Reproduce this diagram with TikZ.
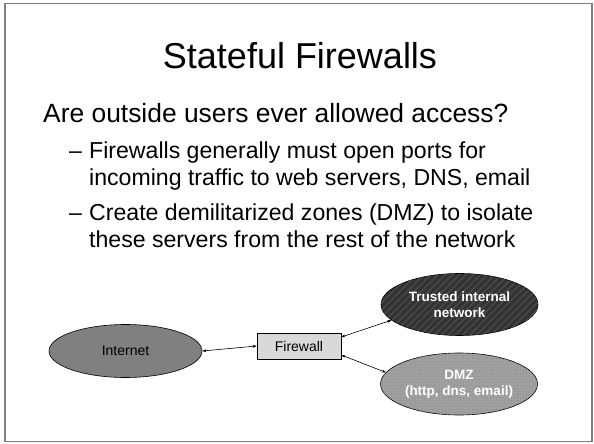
\documentclass[tikz,border=0pt]{standalone}
\usepackage{fontspec}
\setmainfont{Liberation Sans}
\usepackage{tikz}
\usetikzlibrary{arrows.meta, patterns.meta, shapes.geometric}
\definecolor{frameg}{HTML}{7f7f7f}
\definecolor{inetg}{HTML}{808080}
\definecolor{fwg}{HTML}{d9d9d9}
\definecolor{trustd}{HTML}{333333}
\definecolor{trustl}{HTML}{4a4a4a}
\definecolor{dmzg}{HTML}{9a9a9a}
\definecolor{dmzl}{HTML}{bdbdbd}

\begin{document}
\begin{tikzpicture}[
  x=1pt, y=-1pt,
  >={Stealth[length=4pt, width=3pt]},
  title/.style={font=\fontsize{36}{43}\selectfont, anchor=base},
  lvlone/.style={font=\fontsize{26.4}{31}\selectfont, anchor=base west, inner sep=0pt},
  lvltwo/.style={font=\fontsize{23.1}{27}\selectfont, anchor=base west, inner sep=0pt,
                 align=left},
  cloud/.style={ellipse, draw=black, line width=0.6pt, minimum width=153pt,
                minimum height=53pt, inner sep=0pt, align=center},
  wcloud/.style={cloud, minimum width=157pt, minimum height=62pt, text=white,
                 font=\fontsize{13.5}{16}\selectfont\bfseries},
  box/.style={draw=black, line width=0.6pt, fill=fwg, minimum width=84pt,
              minimum height=26pt, inner sep=0pt, font=\fontsize{14}{16}\selectfont},
  link/.style={<->, line width=0.6pt}
]
\useasboundingbox (0,0) rectangle (594,444);
\draw[frameg, line width=1.5pt] (5,3.5) rectangle (592,441.5);

% ---- Title and text ----
\node[title] (ttl) at (300,69) {Stateful Firewalls};
\node[lvlone] (q) at (43,122) {Are outside users ever allowed access?};

% (base of a two-line node = last line)
\node[lvltwo] (d1) at (69,158) {--};
\node[lvltwo] (b1) at (89,185) {Firewalls generally must open ports for\\incoming traffic to web servers, DNS, email};
\node[lvltwo] (d2) at (69,220) {--};
\node[lvltwo] (b2) at (89,247) {Create demilitarized zones (DMZ) to isolate\\these servers from the rest of the network};

% ---- Diagram ----
\node[cloud, fill=inetg, font=\fontsize{14}{16}\selectfont] (inet) at (125.5,351) {Internet};
\node[box] (fw) at (299,346) {Firewall};

\node[wcloud, fill=trustd,
      postaction={pattern={Lines[angle=45, distance=5pt, line width=1.4pt]}, pattern color=trustl}]
      (trust) at (459.5,304.5) {};
\node[text=white, font=\fontsize{13.5}{16}\selectfont\bfseries, align=center]
      (trusttxt) at (trust.center) {Trusted internal\\network};

\node[wcloud, fill=dmzg,
      postaction={pattern={Dots[radius=0.7pt, distance=3pt]}, pattern color=dmzl}]
      (dmz) at (459,384) {};
\node[text=white, font=\fontsize{13.5}{16}\selectfont\bfseries, align=center]
      (dmztxt) at (dmz.center) {DMZ\\(http, dns, email)};

\draw[link] (inet.east) -- (fw.west);
\draw[link] (fw.12) -- (trust.193);
\draw[link] (fw.-12) -- (dmz.171);

\end{tikzpicture}
\end{document}
